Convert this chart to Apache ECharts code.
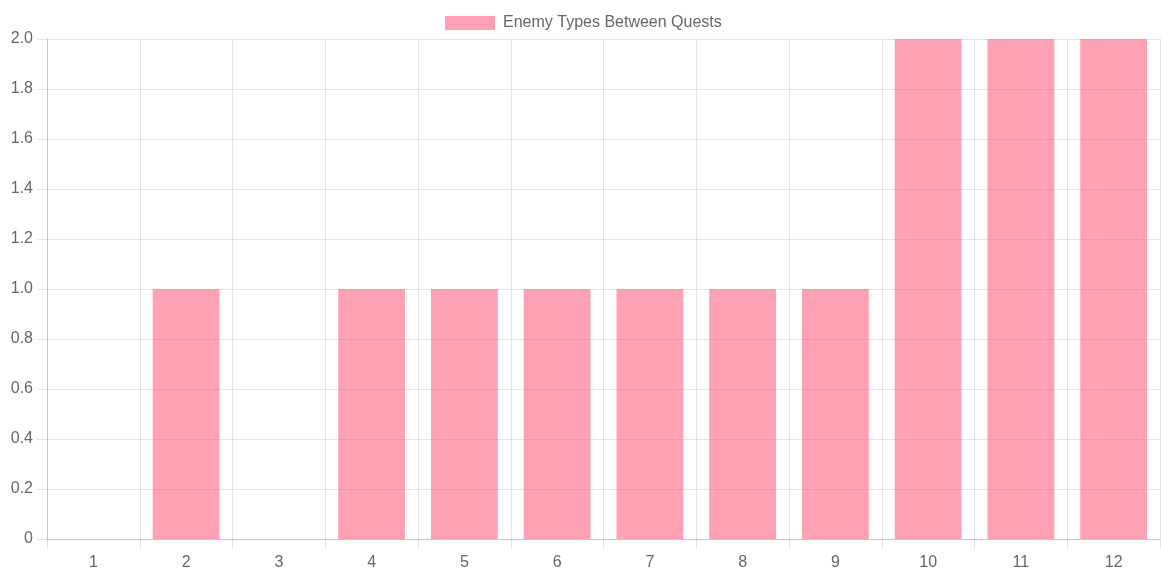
<!DOCTYPE html>
<html lang="en">
<head>
  <meta charset="UTF-8">
  <title>Enemy Types Between Quests</title>
  <script src="https://cdn.jsdelivr.net/npm/echarts@6/dist/echarts.min.js"></script>
  <style>
    html, body { margin: 0; padding: 0; background: #fff; }
    #chart { width: 1161px; height: 571px; }
  </style>
</head>
<body>
  <div id="chart"></div>
  <script type="text/javascript">
    const categories = ['1', '2', '3', '4', '5', '6', '7', '8', '9', '10', '11', '12'];
    const enemyTypes = [0, 1, 0, 1, 1, 1, 1, 1, 1, 2, 2, 2];

    const gridColor = 'rgba(0,0,0,0.1)';
    const textColor = '#666';
    const font = '"Liberation Sans", Arial, sans-serif';

    const myChart = echarts.init(document.getElementById('chart'));
    myChart.setOption({
      animation: false,
      textStyle: { fontFamily: font },
      legend: {
        top: 10,
        left: 440,
        itemWidth: 50,
        itemHeight: 14,
        itemGap: 10,
        icon: 'rect',
        textStyle: { color: textColor, fontSize: 16, fontFamily: font, padding: [0, 0, 0, 3] },
        data: ['Enemy Types Between Quests'],
      },
      grid: { left: 47, right: 1, top: 39, bottom: 31, containLabel: false },
      xAxis: {
        type: 'category',
        data: categories,
        boundaryGap: true,
        axisLine: { lineStyle: { color: 'rgba(0,0,0,0.13)' } },
        axisTick: { show: true, length: 10, alignWithLabel: false, lineStyle: { color: gridColor } },
        splitLine: { show: true, lineStyle: { color: gridColor } },
        axisLabel: { color: textColor, fontSize: 16, margin: 16, fontFamily: font },
      },
      yAxis: {
        type: 'value',
        min: 0,
        max: 2,
        interval: 0.2,
        axisLine: { show: true, lineStyle: { color: 'rgba(0,0,0,0.13)' } },
        axisTick: { show: true, length: 10, lineStyle: { color: gridColor } },
        splitLine: { show: true, lineStyle: { color: gridColor } },
        axisLabel: {
          color: textColor,
          fontSize: 16,
          margin: 14,
          fontFamily: font,
          formatter: (v) => (v === 0 ? '0' : v.toFixed(1)),
        },
      },
      series: [{
        name: 'Enemy Types Between Quests',
        type: 'bar',
        data: enemyTypes,
        barWidth: '72%',
        itemStyle: { color: 'rgba(255,99,132,0.6)' },
      }],
    });
  </script>
</body>
</html>
